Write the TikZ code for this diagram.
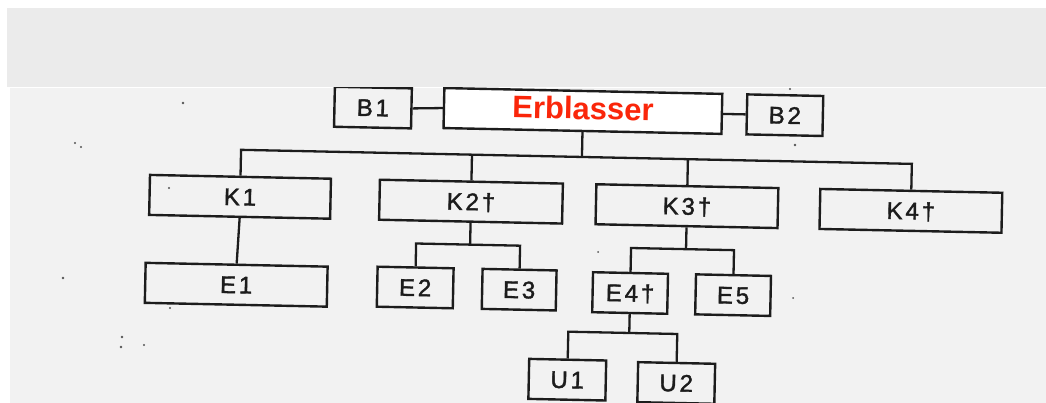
\documentclass[tikz,border=0pt]{standalone}
\usepackage{fontspec}
\setmainfont{Liberation Sans}
\newfontfamily\boxfont[LetterSpace=12,FakeBold=1.6]{Liberation Sans}
\definecolor{ink}{RGB}{28,28,28}
\definecolor{paper}{RGB}{242,242,242}
\definecolor{band}{RGB}{235,235,235}
\definecolor{heirred}{RGB}{250,38,10}
\begin{document}
\begin{tikzpicture}[x=1pt,y=1pt,
  person/.style={draw=ink, line width=2.4pt, minimum height=40pt, inner sep=0pt,
    font=\boxfont\fontsize{24}{24}\selectfont, text=ink, text height=17pt, text depth=0pt},
  deceased/.style={person, fill=white, text=heirred,
    font=\bfseries\fontsize{31}{31}\selectfont, text height=22.6pt, text depth=6pt},
  link/.style={draw=ink, line width=2.3pt},
  speck/.style={fill=ink!75}]
\useasboundingbox (0,0) rectangle (1046,-403);
\fill[white] (0,0) rectangle (1046,-403);
\fill[paper] (10,-88) rectangle (1046,-403);

% family tree, slightly tilted like the printed sheet
\begin{scope}[shift={(583,-250)}, rotate=-1.2, transform shape]
  % generation of the deceased
  \node[person, minimum width=77pt] (B1) at (-213,138) {B1};
  \node[deceased, minimum width=278pt] (Erb) at (-3,139) {Erblasser};
  \node[person, minimum width=76pt] (B2) at (199,139) {B2};
  % children
  \node[person, minimum width=181pt] (K1) at (-344,46) {K1};
  \node[person, minimum width=183pt] (K2) at (-113,46) {K2†};
  \node[person, minimum width=182pt] (K3) at (103,46) {K3†};
  \node[person, minimum width=182pt] (K4) at (327,46) {K4†};
  % grandchildren
  \node[person, minimum width=182pt] (E1) at (-346,-42) {E1};
  \node[person, minimum width=76pt] (E2) at (-167,-41) {E2};
  \node[person, minimum width=74pt] (E3) at (-63,-41) {E3};
  \node[person, minimum width=75pt] (E4) at (48,-42) {E4†};
  \node[person, minimum width=75pt] (E5) at (151,-42) {E5};
  % great-grandchildren
  \node[person, minimum width=77pt] (U1) at (-13,-130) {U1};
  \node[person, minimum width=77pt] (U2) at (96,-131) {U2};

  % bus heights
  \coordinate (kb) at (0,93);
  \coordinate (eb) at (0,3);
  \coordinate (ub) at (0,-82);

  % partners
  \draw[link] (B1.east) -- (Erb.west);
  \draw[link] (Erb.east) -- (B2.west);
  % children bus
  \draw[link] (Erb.south) -- (Erb.south |- kb);
  \draw[link] (K1.north) -- (K1.north |- kb) -- (K4.north |- kb) -- (K4.north);
  \draw[link] (K2.north) -- (K2.north |- kb);
  \draw[link] (K3.north) -- (K3.north |- kb);
  % grandchildren
  \draw[link] (K1.south) -- (E1.north);
  \draw[link] (K2.south) -- (K2.south |- eb);
  \draw[link] (E2.north) -- (E2.north |- eb) -- (E3.north |- eb) -- (E3.north);
  \draw[link] (K3.south) -- (K3.south |- eb);
  \draw[link] (E4.north) -- (E4.north |- eb) -- (E5.north |- eb) -- (E5.north);
  % great-grandchildren
  \draw[link] (E4.south) -- (E4.south |- ub);
  \draw[link] (U1.north) -- (U1.north |- ub) -- (U2.north |- ub) -- (U2.north);
\end{scope}

% dust on the sheet
\foreach \px/\py/\r in {183/103/1.3, 75/143/1.1, 81/147/1.1, 63/278/1.3, 170/308/1.2,
    122/337/1.3, 121/347/1.4, 144/345/1.1, 169/188/1.1, 795/145/1.3, 790/89/1.2,
    598/252/1.0, 793/298/1.0}
  \fill[speck] (\px,-\py) circle (\r);

\fill[band] (7,-8) rectangle (1046,-87);
\end{tikzpicture}
\end{document}
